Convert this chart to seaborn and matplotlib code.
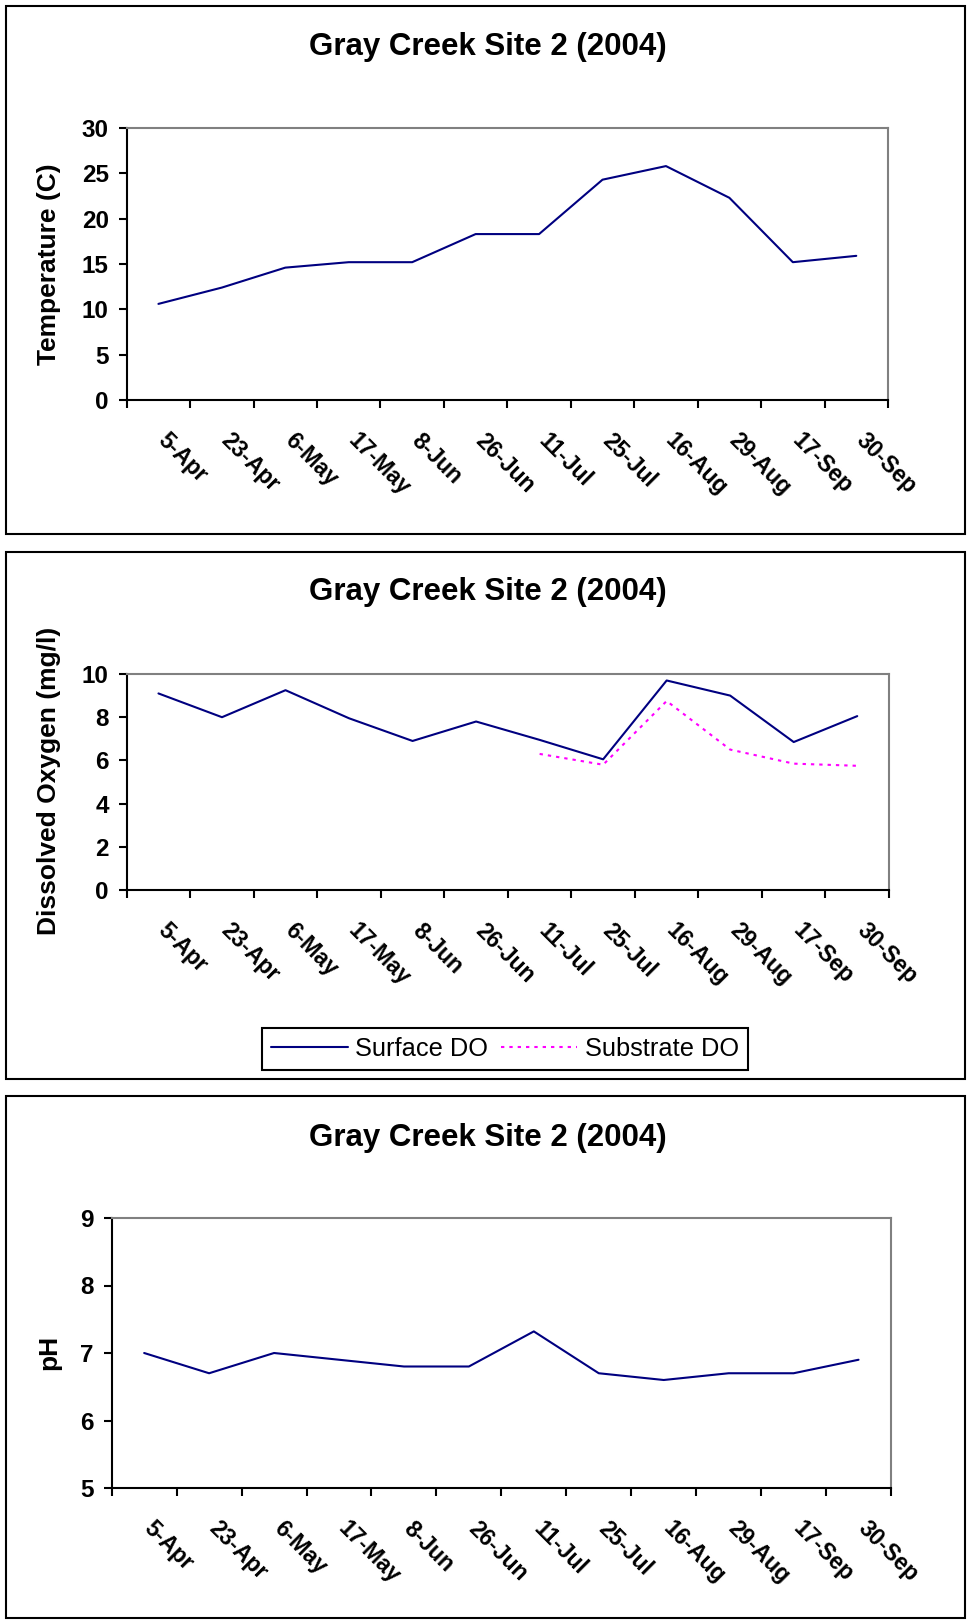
import numpy as np
import pandas as pd
import seaborn as sns
import matplotlib
matplotlib.use("Agg")
import matplotlib.pyplot as plt
from matplotlib.patches import Rectangle
from matplotlib.transforms import ScaledTranslation

# data
dates = ['5-Apr', '23-Apr', '6-May', '17-May', '8-Jun', '26-Jun',
         '11-Jul', '25-Jul', '16-Aug', '29-Aug', '17-Sep', '30-Sep']
temperature = [10.6, 12.4, 14.6, 15.2, 15.2, 18.3, 18.3, 24.3, 25.8, 22.3, 15.2, 15.9]
surface_do = [9.1, 8.0, 9.25, 7.95, 6.9, 7.8, 6.95, 6.05, 9.7, 9.0, 6.85, 8.05]
substrate_do = [np.nan, np.nan, np.nan, np.nan, np.nan, np.nan, 6.3, 5.8, 8.75, 6.5, 5.85, 5.75]
ph = [7.0, 6.7, 7.0, 6.9, 6.8, 6.8, 7.32, 6.7, 6.6, 6.7, 6.7, 6.9]

title = 'Gray Creek Site 2 (2004)'

sns.set_theme(style="white")
plt.rcParams['font.family'] = ['Liberation Sans', 'DejaVu Sans']
plt.rcParams['text.color'] = 'black'
plt.rcParams['axes.labelcolor'] = 'black'
plt.rcParams['xtick.color'] = 'black'
plt.rcParams['ytick.color'] = 'black'

W, H = 969, 1622
fig = plt.figure(figsize=(W / 100, H / 100), dpi=100)

NAVY = '#000080'
MAGENTA = '#FF00FF'


def px_axes(left, right, top, bottom):
    # pixel box -> figure fraction
    return fig.add_axes([left / W, 1 - bottom / H, (right - left) / W, (bottom - top) / H])


def panel_box(top, bottom):
    fig.patches.append(Rectangle((6 / W, 1 - bottom / H), (965 - 6) / W, (bottom - top) / H,
                                 transform=fig.transFigure, fill=False,
                                 edgecolor='black', linewidth=1.5))


def style_axes(ax, ylim, ystep, ylabel, ylab_y, title_y):
    n = len(dates)
    ax.set_xlim(-0.5, n - 0.5)
    ax.set_ylim(*ylim)
    yt = np.arange(ylim[0], ylim[1] + 0.01, ystep)
    ax.set_yticks(yt)
    ax.set_yticklabels([f'{v:g}' for v in yt], fontsize=17.5, fontweight='bold', color='black')
    # tick marks between the categories, labels at the centres
    ax.set_xticks(np.arange(-0.5, n, 1.0))
    ax.set_xticklabels([])
    ax.set_xticks(np.arange(n), minor=True)
    ax.set_xticklabels(dates, minor=True, rotation=-45, ha='left', va='top',
                       rotation_mode='anchor', fontsize=16.5, fontweight='bold', color='black')
    ax.tick_params(axis='x', which='major', direction='out', length=5.5, width=1.5,
                   color='black', bottom=True)
    ax.tick_params(axis='x', which='minor', length=0, pad=21, bottom=True)
    ax.tick_params(axis='y', direction='out', length=6, width=1.5, color='black',
                   left=True, pad=7)
    offset = ScaledTranslation(11 / 100, 0, fig.dpi_scale_trans)
    for lab in ax.get_xticklabels(minor=True):
        lab.set_transform(lab.get_transform() + offset)
    for side in ['left', 'bottom']:
        ax.spines[side].set_color('black')
        ax.spines[side].set_linewidth(1.5)
    for side in ['top', 'right']:
        ax.spines[side].set_color('#808080')
        ax.spines[side].set_linewidth(1.5)
    ax.set_xlabel('')
    ax.set_ylabel('')
    ax.grid(False)
    fig.text(49 / W, 1 - ylab_y / H, ylabel, rotation=90, ha='center', va='center',
             fontsize=19, fontweight='bold', color='black')
    fig.text(488 / W, 1 - title_y / H, title, ha='center', va='center',
             fontsize=22.5, fontweight='bold', color='black')


x = np.arange(len(dates))

# Panel 1: temperature
panel_box(6, 534)
ax1 = px_axes(126.7, 888, 128, 400)
sns.lineplot(x=x, y=temperature, color=NAVY, linewidth=1.5, ax=ax1)
style_axes(ax1, (0, 30), 5, 'Temperature (C)', 264, 47)

# Panel 2: dissolved oxygen
panel_box(552, 1079)
ax2 = px_axes(126.7, 889, 674, 890)
df_do = pd.DataFrame({'x': x, 'surface': surface_do, 'substrate': substrate_do})
sns.lineplot(data=df_do, x='x', y='surface', color=NAVY, linewidth=1.5, ax=ax2,
             label='Surface DO')
sub = df_do.dropna()
sns.lineplot(data=sub, x='x', y='substrate', color=MAGENTA, linewidth=1.5, ax=ax2,
             linestyle=(0, (1.6, 2.4)), label='Substrate DO')
style_axes(ax2, (0, 10), 2, 'Dissolved Oxygen (mg/l)', 781, 592)
leg = ax2.legend(loc='center', bbox_to_anchor=(505 / W, 1 - 1049 / H),
                 bbox_transform=fig.transFigure, ncol=2, frameon=True, fancybox=False,
                 edgecolor='black', framealpha=1, prop={'size': 18.3},
                 handlelength=3.0, handletextpad=0.3, columnspacing=0.5,
                 borderpad=0.35, borderaxespad=0, labelcolor='black')
leg.get_frame().set_linewidth(1.5)

# Panel 3: pH
panel_box(1096, 1618)
ax3 = px_axes(111.7, 891, 1218, 1488)
sns.lineplot(x=x, y=ph, color=NAVY, linewidth=1.5, ax=ax3)
style_axes(ax3, (5, 9), 1, 'pH', 1352, 1138)

fig.savefig('out.png', dpi=100)
